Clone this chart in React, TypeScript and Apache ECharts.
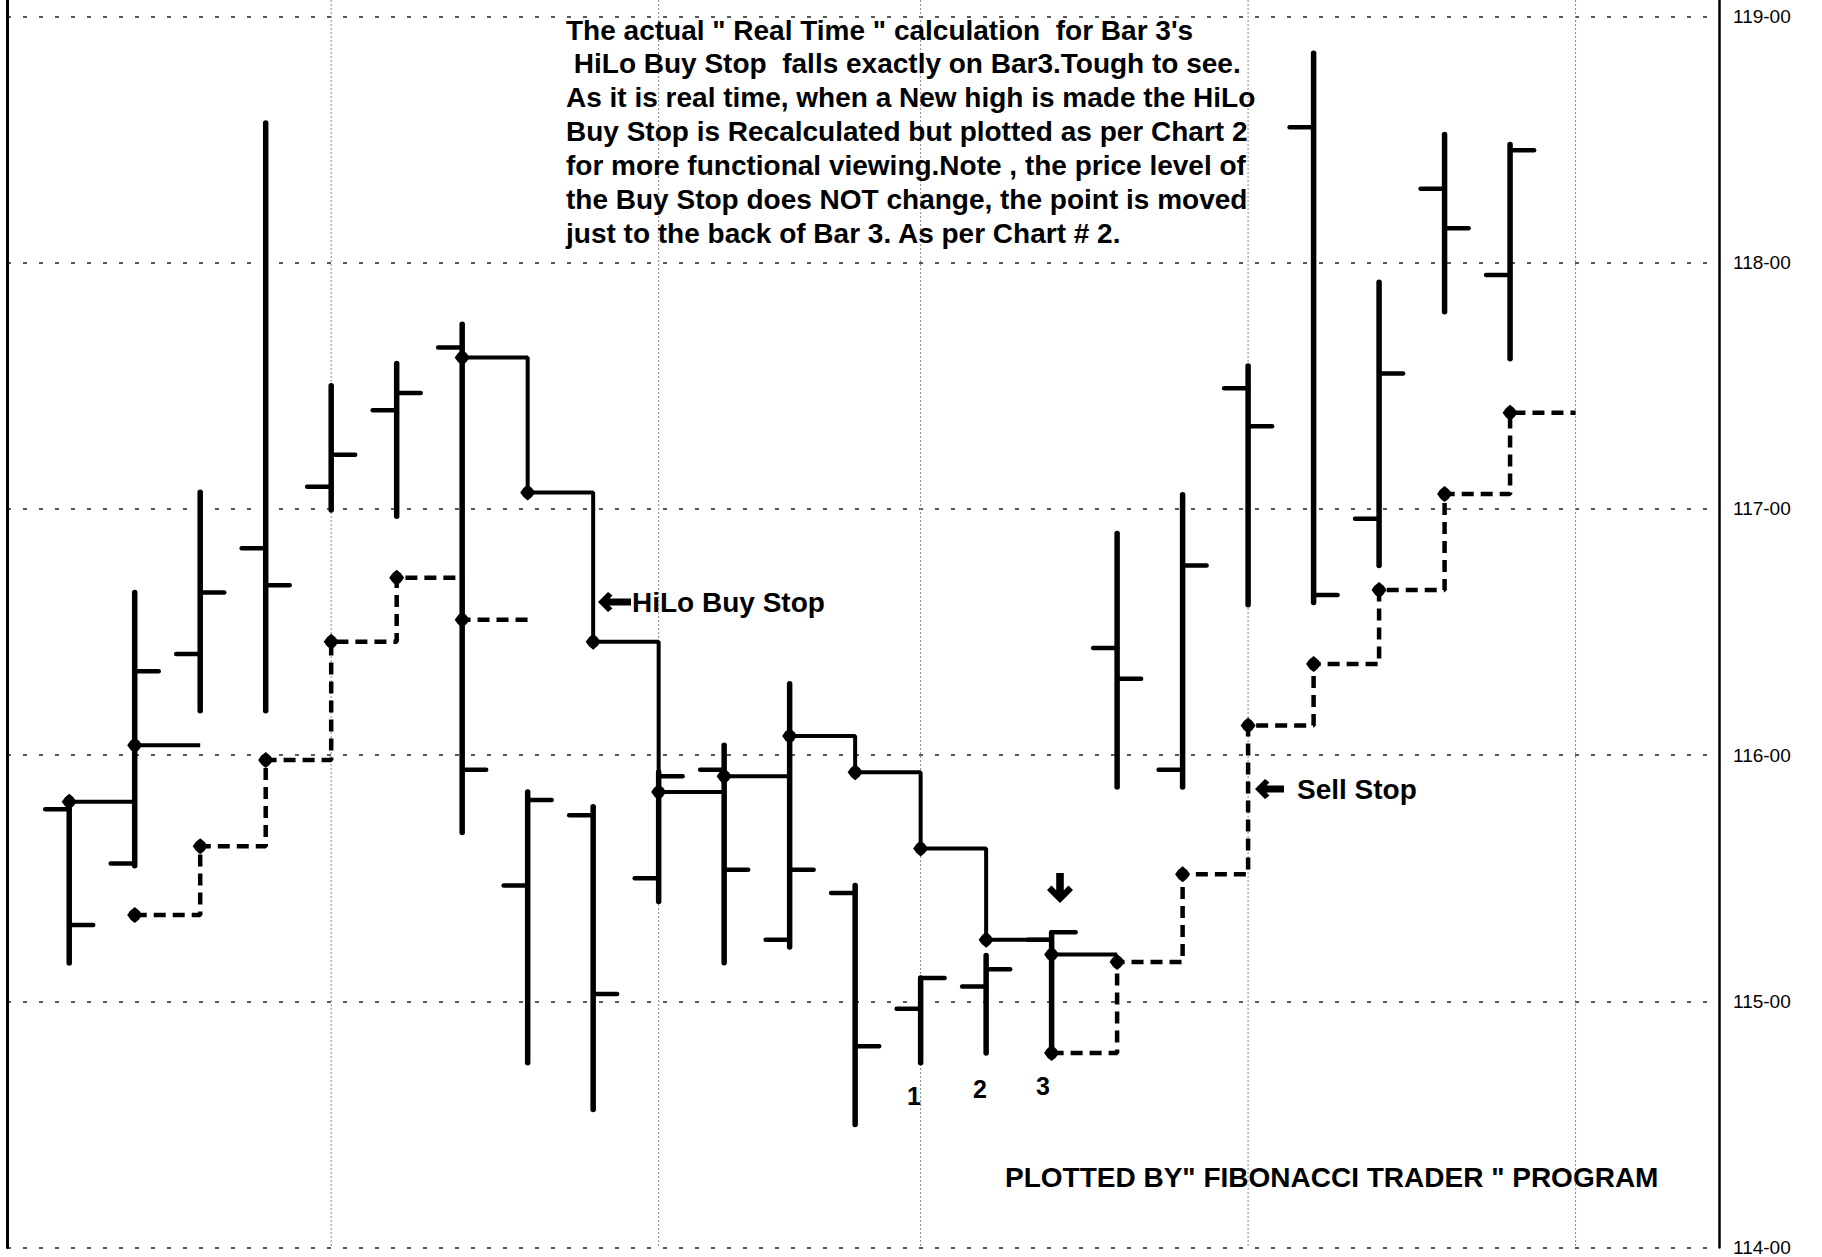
import React, { useEffect, useRef } from "react";
import * as echarts from "echarts";

// ---- Data ----
const barIndex = [0, 1, 2, 3, 4, 5, 6, 7, 8, 9, 10, 11, 12, 13, 14, 15, 16, 17, 18, 19, 20, 21, 22];
const barOpen = [115.78, 115.56, 116.41, 116.84, 117.09, 117.4, 117.655, 115.47, 115.756, 115.5, 115.94, 115.25, 115.44, 114.97, 115.06, 115.25, 116.435, 115.94, 117.49, 118.55, 116.96, 118.3, 117.95];
const barHigh = [115.81, 116.66, 117.067, 118.567, 117.5, 117.59, 117.75, 115.85, 115.79, 115.93, 116.04, 116.29, 115.47, 115.095, 115.186, 115.278, 116.9, 117.057, 117.58, 118.85, 117.92, 118.52, 118.48];
const barLow = [115.155, 115.55, 116.18, 116.18, 116.995, 116.97, 115.685, 114.75, 114.56, 115.405, 115.156, 115.22, 114.5, 114.75, 114.79, 114.79, 115.87, 115.87, 116.61, 116.62, 116.77, 117.8, 117.61];
const barClose = [115.31, 116.34, 116.66, 116.69, 117.22, 117.47, 115.94, 115.817, 115.03, 115.914, 115.534, 115.534, 114.817, 115.095, 115.13, 115.28, 116.31, 116.77, 117.335, 116.65, 117.55, 118.14, 118.456];

// HiLo Buy Stop (solid step line), starting bar index + values
const buyStop1Start = 0;
const buyStop1 = [115.81, 116.04];
const buyStop2Start = 6;
const buyStop2 = [117.615, 117.066, 116.46, 115.85, 115.914, 116.077, 115.93, 115.62, 115.25, 115.19];

// Sell Stop (dashed step line)
const sellStop1Start = 1;
const sellStop1 = [115.35, 115.63, 115.98, 116.46, 116.72, 116.55];
const sellStop2Start = 15;
const sellStop2 = [114.79, 115.16, 115.516, 116.12, 116.37, 116.67, 117.06, 117.39];

// Week separators (vertical dotted grid lines) at these bar indices
const weekSeparators = [4, 9, 13, 18, 23];

// Price axis
const priceMin = 114;
const priceMax = 119.0666;
const priceStep = 1;

const noteLines = [
  'The actual " Real Time " calculation  for Bar 3\'s',
  " HiLo Buy Stop  falls exactly on Bar3.Tough to see.",
  "As it is real time, when a New high is made the HiLo",
  "Buy Stop is Recalculated but plotted as per Chart 2",
  "for more functional viewing.Note , the price level of",
  "the Buy Stop does NOT change, the point is moved",
  "just to the back of Bar 3. As per Chart # 2.",
];
const footerText = 'PLOTTED BY" FIBONACCI TRADER " PROGRAM';
const barNumberLabels = ["1", "2", "3"];

const FONT = '"Liberation Sans", Arial, Helvetica, sans-serif';

function stepData(start: number, vals: number[]) {
  const pts: any[] = vals.map((v, k) => [start + k, v]);
  pts.push({ value: [start + vals.length, vals[vals.length - 1]], symbol: "none" });
  return pts;
}

function leftArrow(tipX: number, tipY: number, len: number, half: number) {
  const s = half / 10;
  const pts = [
    [0, 0],
    [10, -10],
    [14.5, -6.5],
    [11.5, -3.5],
    [len, -3.5],
    [len, 3.5],
    [11.5, 3.5],
    [14.5, 6.5],
    [10, 10],
  ].map(([x, y]) => [tipX + x * (x <= 14.5 ? s : 1), tipY + y * s]);
  return { type: "polygon", shape: { points: pts }, style: { fill: "#000" }, z: 100 };
}

function downArrow(tipX: number, tipY: number) {
  const pts = [
    [0, 0],
    [-13, -13],
    [-8.5, -17.5],
    [-3.8, -12.8],
    [-3.8, -30],
    [3.8, -30],
    [3.8, -12.8],
    [8.5, -17.5],
    [13, -13],
  ].map(([x, y]) => [tipX + x, tipY + y]);
  return { type: "polygon", shape: { points: pts }, style: { fill: "#000" }, z: 100 };
}

function txt(x: number, y: number, text: string, size: number, align = "left") {
  return {
    type: "text",
    x,
    y,
    z: 100,
    style: {
      text,
      font: `bold ${size}px ${FONT}`,
      fill: "#000",
      textAlign: align,
      textVerticalAlign: "middle",
    },
  };
}

const dotSymbol = "path://M0,-8 Q5,-5 8,0 Q5,5 0,8 Q-5,5 -8,0 Q-5,-5 0,-8 Z";

export default function App() {
  const ref = useRef<HTMLDivElement>(null);

  useEffect(() => {
    if (!ref.current) return;
    const chart = echarts.init(ref.current, null, { renderer: "svg" });

    const ohlc = barIndex.map((i) => [i, barOpen[i], barHigh[i], barLow[i], barClose[i]]);

    const graphic: any[] = [];
    noteLines.forEach((line, k) => graphic.push(txt(566, 30 + k * 33.9, line, 28)));
    graphic.push(leftArrow(598, 602, 33, 10));
    graphic.push(txt(632, 602, "HiLo Buy Stop", 28));
    graphic.push(leftArrow(1255, 789, 29, 10));
    graphic.push(txt(1297, 789, "Sell Stop", 28));
    graphic.push(downArrow(1060, 903));
    graphic.push(txt(914, 1096, barNumberLabels[0], 25, "center"));
    graphic.push(txt(980, 1089, barNumberLabels[1], 25, "center"));
    graphic.push(txt(1043, 1086, barNumberLabels[2], 25, "center"));
    graphic.push(txt(1005, 1177, footerText, 28));

    const stepSeries = (name: string, data: any[], dashed: boolean) => ({
      type: "line",
      name,
      step: "end",
      z: 3,
      data,
      symbol: dotSymbol,
      symbolSize: [15, 16],
      showAllSymbol: true,
      itemStyle: { color: "#000" },
      lineStyle: dashed ? { color: "#000", width: 4.5, type: [12, 7] } : { color: "#000", width: 4 },
    });

    const option: any = {
      animation: false,
      backgroundColor: "#fff",
      grid: { left: 7, right: 103, top: 0, bottom: 1.5, containLabel: false },
      xAxis: {
        type: "value",
        min: -0.95,
        max: 25.19,
        show: false,
      },
      yAxis: [
        {
          type: "value",
          position: "right",
          min: priceMin,
          max: priceMax,
          interval: priceStep,
          axisLine: { show: true, onZero: false, lineStyle: { color: "#000", width: 2.5 } },
          axisTick: { show: false },
          axisLabel: {
            show: true,
            margin: 14,
            color: "#000",
            fontFamily: FONT,
            fontSize: 19,
            showMaxLabel: false,
            formatter: (v: number) => (Number.isInteger(v) ? `${v}-00` : ""),
          },
          splitLine: { show: true, showMaxLine: false, lineStyle: { color: "#222", width: 1.5, type: [4, 12] } },
        },
        {
          type: "value",
          position: "left",
          min: priceMin,
          max: priceMax,
          interval: priceStep,
          axisLine: { show: true, onZero: false, lineStyle: { color: "#000", width: 3 } },
          axisTick: { show: false },
          axisLabel: { show: false },
          splitLine: { show: false },
        },
      ],
      series: [
        {
          type: "custom",
          name: "weeks",
          silent: true,
          z: 1,
          data: weekSeparators.map((x) => [x, priceMin]),
          renderItem: (params: any, api: any) => {
            const p = api.coord([api.value(0), priceMin]);
            const cs = params.coordSys;
            return {
              type: "line",
              shape: { x1: p[0], y1: cs.y, x2: p[0], y2: cs.y + cs.height },
              style: { stroke: "#888", lineWidth: 1, lineDash: [2, 2] },
            };
          },
        },
        stepSeries("HiLo Buy Stop 1", stepData(buyStop1Start, buyStop1), false),
        stepSeries("HiLo Buy Stop 2", stepData(buyStop2Start, buyStop2), false),
        stepSeries("Sell Stop 1", stepData(sellStop1Start, sellStop1), true),
        stepSeries("Sell Stop 2", stepData(sellStop2Start, sellStop2), true),
        {
          type: "custom",
          name: "OHLC",
          z: 4,
          data: ohlc,
          encode: { x: 0, y: [1, 2, 3, 4] },
          renderItem: (params: any, api: any) => {
            const i = api.value(0);
            const pO = api.coord([i, api.value(1)]);
            const pH = api.coord([i, api.value(2)]);
            const pL = api.coord([i, api.value(3)]);
            const pC = api.coord([i, api.value(4)]);
            const st = { stroke: "#000", lineWidth: 5.5, lineCap: "round" };
            return {
              type: "group",
              children: [
                { type: "line", shape: { x1: pH[0], y1: pH[1], x2: pL[0], y2: pL[1] }, style: st },
                { type: "line", shape: { x1: pO[0] - 24, y1: pO[1], x2: pO[0], y2: pO[1] }, style: { ...st, lineWidth: 4.5 } },
                { type: "line", shape: { x1: pC[0], y1: pC[1], x2: pC[0] + 24, y2: pC[1] }, style: { ...st, lineWidth: 4.5 } },
              ],
            };
          },
        },
      ],
      graphic,
    };

    chart.setOption(option);
    return () => chart.dispose();
  }, []);

  return (
    <div
      ref={ref}
      style={{ position: "absolute", left: 0, top: 0, width: 1822, height: 1257, background: "#fff" }}
    />
  );
}
